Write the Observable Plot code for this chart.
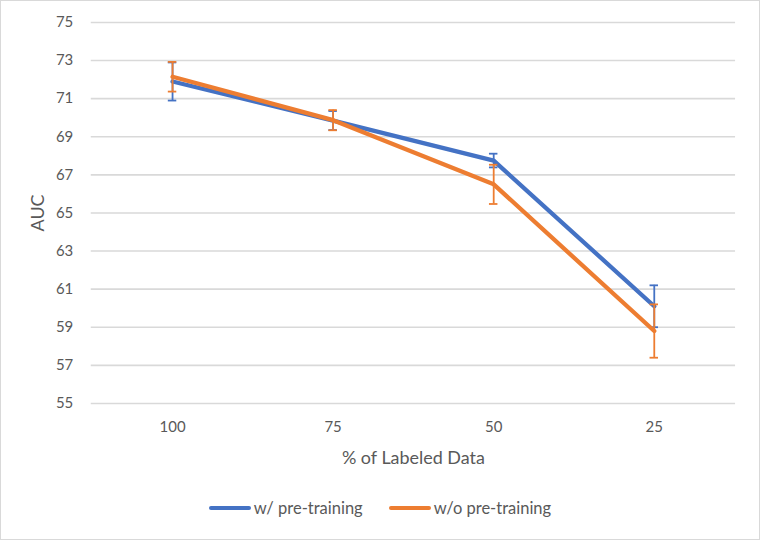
<!DOCTYPE html>
<html>
<head>
<meta charset="utf-8">
<script src="https://cdn.jsdelivr.net/npm/d3@7"></script>
<script src="https://cdn.jsdelivr.net/npm/@observablehq/plot@0.6"></script>
<style>
  html, body { margin: 0; padding: 0; background: #fff; }
  #chart { position: relative; width: 758px; height: 538px; border: 1px solid #d9d9d9; background: #fff; font-family: Lato, "Open Sans", sans-serif; }
  #chart svg { display: block; position: absolute; left: -1px; top: -1px; }
  #legend { position: absolute; left: 0; right: 0; top: 497px; display: flex; justify-content: center; gap: 26px; font-size: 16.5px; color: #595959; }
  .item { display: flex; align-items: center; }
  .sw { width: 42px; height: 4px; border-radius: 2px; margin-right: 3px; }
</style>
</head>
<body>
<div id="chart"></div>
<script>
const categories = ["100", "75", "50", "25"];
const withPre = [71.9, 69.85, 67.75, 60.1];
const withPreErr = [1.0, 0.5, 0.36, 1.1];
const withoutPre = [72.15, 69.87, 66.5, 58.8];
const withoutPreErr = [0.78, 0.53, 1.03, 1.4];
const yTicks = [55, 57, 59, 61, 63, 65, 67, 69, 71, 73, 75];
const seriesNames = ["w/ pre-training", "w/o pre-training"];
const seriesColors = ["#4472C4", "#ED7D31"];

const build = (vals, errs) => categories.map((c, i) => ({x: c, y: vals[i], lo: vals[i] - errs[i], hi: vals[i] + errs[i]}));
const blue = build(withPre, withPreErr);
const orange = build(withoutPre, withoutPreErr);

const W = 760, ML = 91, MR = 23;
const bw = (W - ML - MR) / categories.length;
const capInset = (bw - 9) / 2;

const errMarks = (data, color) => [
  Plot.ruleX(data, {x: "x", y1: "lo", y2: "hi", stroke: color, strokeWidth: 1.8}),
  Plot.tickY(data, {x: "x", y: "lo", stroke: color, strokeWidth: 1.8, insetLeft: capInset, insetRight: capInset}),
  Plot.tickY(data, {x: "x", y: "hi", stroke: color, strokeWidth: 1.8, insetLeft: capInset, insetRight: capInset})
];

const plot = Plot.plot({
  width: W,
  height: 490,
  marginTop: 22,
  marginBottom: 86,
  marginLeft: ML,
  marginRight: MR,
  style: {fontFamily: "Lato, 'Open Sans', sans-serif", fontSize: "15px", color: "#595959", background: "transparent"},
  x: {type: "band", domain: categories, padding: 0},
  y: {domain: [55, 75]},
  marks: [
    Plot.gridY(yTicks, {stroke: "#d9d9d9", strokeOpacity: 1, strokeWidth: 1.6}),
    Plot.axisY({ticks: yTicks, tickSize: 0, tickPadding: 18, label: "AUC", labelAnchor: "center", labelOffset: 60, labelArrow: "none"}),
    Plot.axisX({tickSize: 0, tickPadding: 18, label: "% of Labeled Data", labelAnchor: "center", labelOffset: 61, labelArrow: "none"}),
    Plot.line(blue, {x: "x", y: "y", stroke: seriesColors[0], strokeWidth: 4.3}),
    ...errMarks(blue, seriesColors[0]),
    Plot.line(orange, {x: "x", y: "y", stroke: seriesColors[1], strokeWidth: 4.3}),
    ...errMarks(orange, seriesColors[1])
  ]
});
d3.select(plot).selectAll("[aria-label$='axis label'] text").style("font-size", "18px");
const chart = document.getElementById("chart");
chart.appendChild(plot);

const legend = d3.select(chart).append("div").attr("id", "legend");
seriesNames.forEach((n, i) => {
  const it = legend.append("div").attr("class", "item");
  it.append("div").attr("class", "sw").style("background", seriesColors[i]);
  it.append("span").text(n);
});
</script>
</body>
</html>
